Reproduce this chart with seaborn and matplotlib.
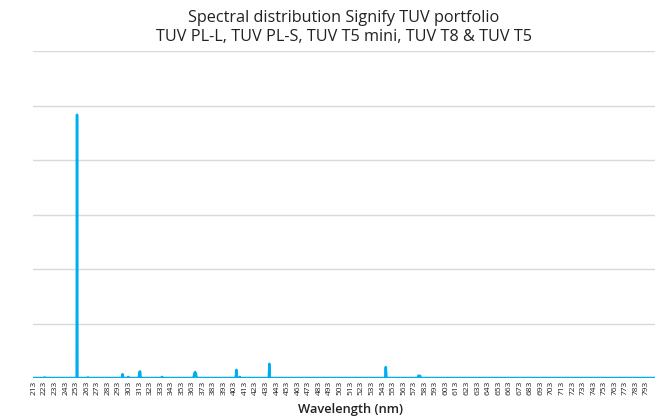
import numpy as np
import pandas as pd
import matplotlib
matplotlib.use("Agg")
import matplotlib.pyplot as plt
import seaborn as sns

# spectrum (relative units, grid step = 1)
wavelength = [212, 222, 223, 224, 253.35, 253.7, 254.05, 263, 264, 265,
              296.2, 296.8, 297.4, 301.8, 302.2, 302.6, 312.2, 312.8, 313.4, 314.0,
              333.6, 334.1, 334.6, 364.0, 364.8, 365.5, 366.2, 367.0,
              404.0, 404.6, 405.2, 407.4, 407.8, 408.2,
              435.3, 435.8, 436.3,
              545.5, 546.1, 546.7,
              576.2, 577.0, 578.5, 579.2, 801]
intensity = [0.0, 0.0, 0.01, 0.0, 0.0, 4.83, 0.0, 0.0, 0.01, 0.0,
             0.0, 0.07, 0.0, 0.0, 0.02, 0.0, 0.0, 0.11, 0.12, 0.0,
             0.0, 0.02, 0.0, 0.0, 0.08, 0.11, 0.08, 0.0,
             0.0, 0.15, 0.0, 0.0, 0.02, 0.0,
             0.0, 0.26, 0.0,
             0.0, 0.2, 0.0,
             0.0, 0.04, 0.04, 0.0, 0.0]

tick_values = list(range(213, 794, 10))
title_line1 = "Spectral distribution Signify TUV portfolio"
title_line2 = "TUV PL-L, TUV PL-S, TUV T5 mini, TUV T8 & TUV T5"

df = pd.DataFrame({"Wavelength": wavelength, "Intensity": intensity})

sns.set_theme(style="whitegrid")
plt.rcParams["font.family"] = ["Open Sans", "DejaVu Sans"]

fig = plt.figure(figsize=(6.71, 4.16), dpi=100)
ax = fig.add_axes([33 / 671, 1 - 378 / 416, 622 / 671, 327 / 416])

sns.lineplot(data=df, x="Wavelength", y="Intensity", color="#00aeef",
             linewidth=1.8, ax=ax)

ax.set_xlim(212, 801)
ax.set_ylim(0, 6)
ax.set_yticks(range(0, 7))
ax.set_yticklabels([])
ax.set_xticks(tick_values)
ax.set_xticklabels([str(t) for t in tick_values], rotation=90, fontsize=6,
                   color="#222222")
ax.tick_params(axis="x", pad=2, length=0)
ax.tick_params(axis="y", length=0)
ax.grid(axis="x", visible=False)
ax.grid(axis="y", color="#d9d9d9", linewidth=1)
for s in ax.spines.values():
    s.set_visible(False)

ax.set_ylabel("")
ax.set_xlabel("")
fig.text(350 / 671, 1 - 409 / 416, "Wavelength (nm)", ha="center", va="center",
         fontsize=9.3, fontweight="semibold", color="#222222")

fig.text(344 / 671, 1 - 18 / 416, title_line1, ha="center", va="center",
         fontsize=11.7, color="#222222")
fig.text(344 / 671, 1 - 37 / 416, title_line2, ha="center", va="center",
         fontsize=11.7, color="#222222")

fig.savefig("out.png", dpi=100)
